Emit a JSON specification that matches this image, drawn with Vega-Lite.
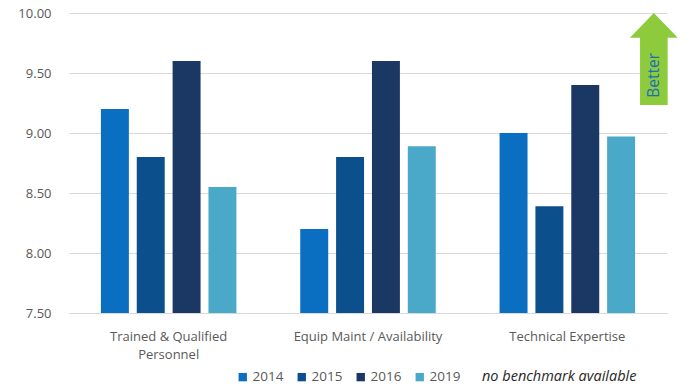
{
  "$schema": "https://vega.github.io/schema/vega-lite/v6.json",
  "autosize": "none",
  "width": 598,
  "height": 300,
  "padding": {"left": 69, "top": 13, "right": 25, "bottom": 79},
  "background": "white",
  "config": {
    "view": {"stroke": null},
    "font": "Open Sans",
    "axisY": {
      "labelFontSize": 13,
      "labelColor": "#595959",
      "labelPadding": 18,
      "ticks": false,
      "domain": false,
      "grid": true,
      "gridColor": "#D9D9D9",
      "gridWidth": 1
    }
  },
  "layer": [
    {
      "data": {
        "values": [
          {"category": "Trained & Qualified Personnel", "year": "2014", "score": 9.2},
          {"category": "Trained & Qualified Personnel", "year": "2015", "score": 8.8},
          {"category": "Trained & Qualified Personnel", "year": "2016", "score": 9.6},
          {"category": "Trained & Qualified Personnel", "year": "2019", "score": 8.55},
          {"category": "Equip Maint / Availability", "year": "2014", "score": 8.2},
          {"category": "Equip Maint / Availability", "year": "2015", "score": 8.8},
          {"category": "Equip Maint / Availability", "year": "2016", "score": 9.6},
          {"category": "Equip Maint / Availability", "year": "2019", "score": 8.89},
          {"category": "Technical Expertise", "year": "2014", "score": 9.0},
          {"category": "Technical Expertise", "year": "2015", "score": 8.39},
          {"category": "Technical Expertise", "year": "2016", "score": 9.4},
          {"category": "Technical Expertise", "year": "2019", "score": 8.97}
        ]
      },
      "mark": {"type": "bar", "clip": true},
      "encoding": {
        "x": {
          "field": "category",
          "type": "nominal",
          "sort": null,
          "scale": {"paddingInner": 0, "paddingOuter": 0},
          "axis": {
            "title": null,
            "labelAngle": 0,
            "labelExpr": "datum.value == 'Trained & Qualified Personnel' ? ['Trained & Qualified', 'Personnel'] : datum.value",
            "labelFontSize": 13,
            "labelColor": "#595959",
            "labelPadding": 17,
            "labelLineHeight": 18,
            "ticks": false,
            "domainColor": "#D9D9D9",
            "domainWidth": 1
          }
        },
        "xOffset": {
          "field": "year",
          "type": "nominal",
          "scale": {"paddingInner": 0.22, "paddingOuter": 0.89}
        },
        "y": {
          "field": "score",
          "type": "quantitative",
          "scale": {"domain": [7.5, 10], "zero": false, "nice": false},
          "axis": {"title": null, "values": [7.5, 8, 8.5, 9, 9.5, 10], "format": ".2f"}
        },
        "color": {
          "field": "year",
          "type": "nominal",
          "scale": {
            "domain": ["2014", "2015", "2016", "2019"],
            "range": ["#0B6FC1", "#0B4F8C", "#1B3864", "#4AA9C9"]
          },
          "legend": {
            "title": "no benchmark available",
            "titleOrient": "right",
            "titleFontStyle": "italic",
            "titleFontWeight": "normal",
            "titleFontSize": 14.5,
            "titleColor": "#262626",
            "titlePadding": 22,
            "orient": "none",
            "legendX": 167,
            "legendY": 357,
            "direction": "horizontal",
            "symbolType": "square",
            "symbolSize": 70,
            "symbolStrokeWidth": 0,
            "labelFontSize": 13.5,
            "labelColor": "#595959",
            "labelOffset": 3,
            "columnPadding": 11
          }
        }
      }
    },
    {
      "data": {"values": [{"px": 0.978, "py": 9.617}]},
      "mark": {
        "type": "point",
        "shape": "M0,-1 L0.52,-0.46 L0.3,-0.46 L0.3,1 L-0.3,1 L-0.3,-0.46 L-0.52,-0.46 Z",
        "filled": true,
        "color": "#8DCB3D",
        "opacity": 1,
        "size": 8464
      },
      "encoding": {
        "x": {"field": "px", "type": "quantitative", "scale": {"domain": [0, 1]}, "axis": null},
        "y": {
          "field": "py",
          "type": "quantitative",
          "scale": {"domain": [7.5, 10], "zero": false, "nice": false},
          "axis": {"title": null, "values": [7.5, 8, 8.5, 9, 9.5, 10], "format": ".2f"}
        }
      }
    },
    {
      "data": {"values": [{"px": 0.978, "py": 9.48, "label": "Better"}]},
      "mark": {
        "type": "text",
        "angle": 270,
        "color": "#1B6FB5",
        "fontSize": 15.5,
        "align": "center",
        "baseline": "middle"
      },
      "encoding": {
        "x": {"field": "px", "type": "quantitative", "scale": {"domain": [0, 1]}, "axis": null},
        "y": {
          "field": "py",
          "type": "quantitative",
          "scale": {"domain": [7.5, 10], "zero": false, "nice": false},
          "axis": {"title": null, "values": [7.5, 8, 8.5, 9, 9.5, 10], "format": ".2f"}
        },
        "text": {"field": "label"}
      }
    }
  ],
  "resolve": {"scale": {"x": "independent"}}
}
